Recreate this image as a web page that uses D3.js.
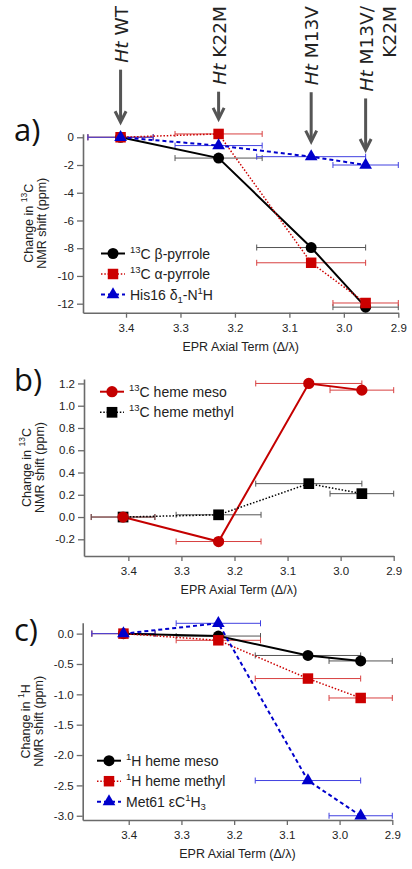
<!DOCTYPE html>
<html><head><meta charset="utf-8">
<script src="https://cdn.jsdelivr.net/npm/d3@7"></script>
<style>body{margin:0;background:#fff}svg{display:block}</style>
</head><body><svg id="c" width="412" height="869"></svg>
<script>
// ---------- data ----------
const mutants = [["WT"], ["K22M"], ["M13V"], ["M13V/", "K22M"]];
const axialTerm = [3.41, 3.23, 3.06, 2.96];
const axialErr = [0.06, 0.08, 0.10, 0.06];
const xTicks = [3.4, 3.3, 3.2, 3.1, 3.0, 2.9];

const a_betaPyrrole = [0, -1.5, -7.95, -12.25];
const a_alphaPyrrole = [0, 0.24, -9.05, -11.95];
const a_his16 = [0, -0.6, -1.4, -2.0];
const a_yTicks = [0, -2, -4, -6, -8, -10, -12];

const b_hemeMeso = [0, -0.22, 1.2, 1.14];
const b_hemeMethyl = [0, 0.02, 0.30, 0.21];
const b_yTicks = [1.2, 1.0, 0.8, 0.6, 0.4, 0.2, 0.0, -0.2];

const c_hemeMeso = [0, -0.04, -0.36, -0.45];
const c_hemeMethyl = [0, -0.11, -0.74, -1.06];
const c_met61 = [0, 0.17, -2.42, -3.0];
const c_yTicks = [0.0, -0.5, -1.0, -1.5, -2.0, -2.5, -3.0];

// ---------- styles ----------
const ST = {
  blackSolid: {color: "#000", err: "#555", dash: null, width: 2, marker: d3.symbolCircle, size: 95},
  blackDot:   {color: "#000", err: "#555", dash: "1.5,1.8", width: 1.5, marker: d3.symbolSquare, size: 115},
  redDot:     {color: "#cc0000", err: "#d84040", dash: "1.5,1.8", width: 1.5, marker: d3.symbolSquare, size: 110},
  redSolid:   {color: "#c40000", err: "#d84040", dash: null, width: 2, marker: d3.symbolCircle, size: 100},
  blueDash:   {color: "#0000cc", err: "#4040e0", dash: "4,3", width: 2, marker: d3.symbolTriangle, size: 70}
};
const FONT = "'Liberation Sans', Arial, sans-serif";

const svg = d3.select("#c");

function richText(sel, parts, size) {
  let pending = 0;
  parts.forEach(p => {
    const t = sel.append("tspan").text(p.t);
    let dy = pending; pending = 0;
    if (p.s === "sup") { t.attr("font-size", size * 0.68); dy -= size * 0.42; pending = size * 0.42; }
    else if (p.s === "sub") { t.attr("font-size", size * 0.68); dy += size * 0.25; pending = -size * 0.25; }
    if (dy) t.attr("dy", dy);
  });
}

function drawPanel(cfg) {
  const g = svg.append("g");
  const x = d3.scaleLinear().domain(cfg.xDomain).range([cfg.left, cfg.right]);
  const y = d3.scaleLinear().domain(cfg.yDomain).range([cfg.bottom, cfg.top]);

  const xAxis = d3.axisBottom(x).tickValues(xTicks).tickSize(5).tickSizeOuter(0).tickPadding(6).tickFormat(d => d.toFixed(1));
  const yAxis = d3.axisLeft(y).tickValues(cfg.yTicks).tickSize(6).tickSizeOuter(0).tickPadding(3).tickFormat(cfg.fmt);
  const gx = g.append("g").attr("transform", `translate(0,${cfg.bottom})`).call(xAxis);
  const gy = g.append("g").attr("transform", `translate(${cfg.left},0)`).call(yAxis);
  [gx, gy].forEach(a => {
    a.select(".domain").attr("stroke", "#6a6a6a").attr("stroke-width", 1.6);
    a.selectAll(".tick line").attr("stroke", "#6a6a6a").attr("stroke-width", 1.3);
    a.selectAll(".tick text").attr("fill", "#222").attr("font-size", 11.5).attr("font-family", FONT);
  });

  // x title
  g.append("text").attr("x", (cfg.left + cfg.right) / 2).attr("y", cfg.bottom + 38)
    .attr("text-anchor", "middle").attr("font-family", FONT).attr("font-size", 12.5).attr("fill", "#222")
    .text("EPR Axial Term (\u0394/\u03BB)");

  // y title
  const cy = (cfg.top + cfg.bottom) / 2;
  const t1 = g.append("text").attr("transform", `translate(${cfg.yt1 + 4.5},${cy}) rotate(-90)`)
    .attr("text-anchor", "middle").attr("font-family", FONT).attr("font-size", 12.5).attr("fill", "#222");
  richText(t1, [{t: "Change in "}, {t: cfg.nucSup, s: "sup"}, {t: cfg.nucBase}], 12.5);
  g.append("text").attr("transform", `translate(${cfg.yt2 + 4.5},${cy}) rotate(-90)`)
    .attr("text-anchor", "middle").attr("font-family", FONT).attr("font-size", 12.5).attr("fill", "#222")
    .text("NMR shift (ppm)");

  // panel label
  g.append("text").attr("x", 14).attr("y", cfg.labelY).attr("font-family", "'Open Sans', 'DejaVu Sans', sans-serif")
    .attr("font-size", 31).attr("fill", "#111").text(cfg.label);

  // error bars
  cfg.series.forEach(s => {
    const st = ST[s.style];
    const eg = g.append("g").attr("stroke", st.err).attr("stroke-width", 1).attr("fill", "none");
    s.values.forEach((v, i) => {
      const x1 = x(axialTerm[i] + axialErr[i]), x2 = x(axialTerm[i] - axialErr[i]), yy = y(v);
      eg.append("line").attr("x1", x1).attr("x2", x2).attr("y1", yy).attr("y2", yy);
      eg.append("line").attr("x1", x1).attr("x2", x1).attr("y1", yy - 3).attr("y2", yy + 3);
      eg.append("line").attr("x1", x2).attr("x2", x2).attr("y1", yy - 3).attr("y2", yy + 3);
    });
  });
  // lines
  const lineGen = d3.line().x((d, i) => x(axialTerm[i])).y(d => y(d));
  cfg.series.forEach(s => {
    const st = ST[s.style];
    g.append("path").attr("d", lineGen(s.values)).attr("fill", "none").attr("stroke", st.color)
      .attr("stroke-width", st.width).attr("stroke-dasharray", st.dash);
  });
  // markers
  cfg.markerOrder.forEach(k => {
    const s = cfg.series[k], st = ST[s.style];
    s.values.forEach((v, i) => {
      g.append("path").attr("d", d3.symbol(st.marker, st.size)())
        .attr("transform", `translate(${x(axialTerm[i])},${y(v)})`).attr("fill", st.color);
    });
  });

  // legend
  cfg.series.forEach((s, k) => {
    const st = ST[s.style];
    const ly = cfg.legY + k * cfg.legDy;
    g.append("line").attr("x1", cfg.legX).attr("x2", cfg.legX + 24).attr("y1", ly).attr("y2", ly)
      .attr("stroke", st.color).attr("stroke-width", st.width).attr("stroke-dasharray", st.dash);
    g.append("path").attr("d", d3.symbol(st.marker, st.size)()).attr("transform", `translate(${cfg.legX + 12},${ly})`)
      .attr("fill", st.color);
    const tt = g.append("text").attr("x", cfg.legX + 29).attr("y", ly + 5).attr("font-family", FONT)
      .attr("font-size", 14).attr("fill", "#222");
    richText(tt, s.label, 14);
  });
  return {x, y};
}

const pa = drawPanel({
  label: "a)", labelY: 141, left: 83, right: 398.3, top: 133.8, bottom: 312.7,
  xDomain: [3.479, 2.9], yDomain: [-12.65, 0.25], yTicks: a_yTicks, fmt: d => String(d),
  nucSup: "13", nucBase: "C", yt1: 28, yt2: 41,
  legX: 101, legY: 253.5, legDy: 20.5, markerOrder: [0, 1, 2],
  series: [
    {values: a_betaPyrrole, style: "blackSolid", label: [{t: "13", s: "sup"}, {t: "C \u03B2-pyrrole"}]},
    {values: a_alphaPyrrole, style: "redDot", label: [{t: "13", s: "sup"}, {t: "C \u03B1-pyrrole"}]},
    {values: a_his16, style: "blueDash", label: [{t: "His16 \u03B4"}, {t: "1", s: "sub"}, {t: "-N"}, {t: "1", s: "sup"}, {t: "H"}]}
  ]
});

drawPanel({
  label: "b)", labelY: 391, left: 84, right: 393.7, top: 379, bottom: 556,
  xDomain: [3.4836, 2.9], yDomain: [-0.35, 1.24], yTicks: b_yTicks, fmt: d => d.toFixed(1),
  nucSup: "13", nucBase: "C", yt1: 26, yt2: 39,
  legX: 100, legY: 391.7, legDy: 20.6, markerOrder: [1, 0],
  series: [
    {values: b_hemeMeso, style: "redSolid", label: [{t: "13", s: "sup"}, {t: "C heme meso"}]},
    {values: b_hemeMethyl, style: "blackDot", label: [{t: "13", s: "sup"}, {t: "C heme methyl"}]}
  ]
});

drawPanel({
  label: "c)", labelY: 641, left: 82.7, right: 392.3, top: 622.7, bottom: 820,
  xDomain: [3.4873, 2.9], yDomain: [-3.07, 0.18], yTicks: c_yTicks, fmt: d => d.toFixed(1),
  nucSup: "1", nucBase: "H", yt1: 25, yt2: 38,
  legX: 97, legY: 760.7, legDy: 20.5, markerOrder: [0, 1, 2],
  series: [
    {values: c_hemeMeso, style: "blackSolid", label: [{t: "1", s: "sup"}, {t: "H heme meso"}]},
    {values: c_hemeMethyl, style: "redDot", label: [{t: "1", s: "sup"}, {t: "H heme methyl"}]},
    {values: c_met61, style: "blueDash", label: [{t: "Met61 \u03B5C"}, {t: "1", s: "sup"}, {t: "H"}, {t: "3", s: "sub"}]}
  ]
});

// ---------- mutant arrows (panel a scale) ----------
const aSeries = [a_betaPyrrole, a_alphaPyrrole, a_his16];
mutants.forEach((lines, i) => {
  const ax = pa.x(axialTerm[i]);
  const topVal = d3.max(aSeries, s => s[i]);
  const tip = pa.y(topVal) - 15;
  let firstLen = 0;
  lines.forEach((ln, j) => {
    const t = svg.append("text").attr("transform", `translate(${ax + j * 23.5},6) rotate(-90)`)
      .attr("text-anchor", "end").attr("dominant-baseline", "central")
      .attr("font-family", "'DejaVu Sans', sans-serif").attr("font-size", 18.5).attr("fill", "#222");
    if (j === 0) { t.append("tspan").attr("font-style", "italic").text("Ht"); t.append("tspan").text(" " + ln); }
    else t.text(ln);
    if (j === 0) firstLen = t.node().getComputedTextLength();
  });
  const start = 6 + firstLen + 7;
  const ag = svg.append("g").attr("stroke", "#555").attr("stroke-width", 3).attr("fill", "none");
  ag.append("line").attr("x1", ax).attr("x2", ax).attr("y1", start).attr("y2", tip - 1);
  ag.append("polyline").attr("points", `${ax - 5.5},${tip - 11} ${ax},${tip} ${ax + 5.5},${tip - 11}`)
    .attr("stroke-linejoin", "miter");
});
</script>
</body></html>
